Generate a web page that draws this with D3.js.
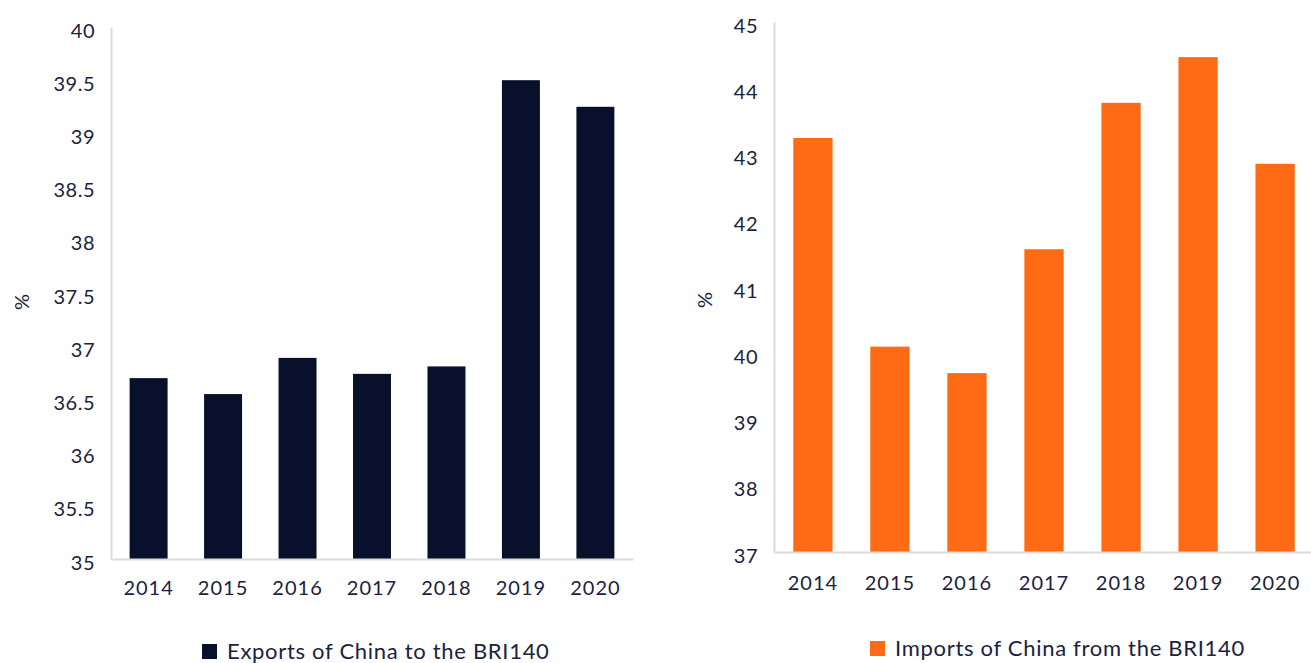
<!DOCTYPE html>
<html>
<head>
<meta charset="utf-8">
<script src="https://cdn.jsdelivr.net/npm/d3@7"></script>
<style>
  html, body { margin: 0; padding: 0; background: #fff; }
  text { font-family: Lato, "Open Sans", sans-serif; fill: #1b2240; }
</style>
</head>
<body>
<svg id="chart" width="1311" height="663"></svg>
<script>
const years = ["2014", "2015", "2016", "2017", "2018", "2019", "2020"];
const exportsShare = [36.7, 36.55, 36.89, 36.74, 36.81, 39.5, 39.25];
const importsShare = [43.25, 40.1, 39.7, 41.57, 43.78, 44.47, 42.86];
const exportTicks = [35, 35.5, 36, 36.5, 37, 37.5, 38, 38.5, 39, 39.5, 40];
const importTicks = [37, 38, 39, 40, 41, 42, 43, 44, 45];

const svg = d3.select("#chart");

function drawPanel(opts) {
    const x = d3.scaleBand().domain(years)
        .range([opts.left, opts.right])
        .paddingInner(0.49).paddingOuter(0.25);
    const y = d3.scaleLinear().domain(opts.domain).range([opts.bottom, opts.top]);

    const g = svg.append("g");

    const yAxis = g.append("g")
        .attr("transform", `translate(${opts.left},0)`)
        .call(d3.axisLeft(y).tickValues(opts.ticks).tickSize(0).tickPadding(16)
            .tickFormat(d => String(d)));
    yAxis.select(".domain").attr("stroke", "#dcdcdc").attr("stroke-width", 2);
    yAxis.selectAll("text").attr("font-size", 20).attr("letter-spacing", 0.5).attr("dy", "0.5em");

    g.selectAll(".bar")
        .data(opts.values)
        .enter().append("rect")
        .attr("class", "bar")
        .attr("x", (d, i) => x(years[i]))
        .attr("width", x.bandwidth())
        .attr("y", d => y(d))
        .attr("height", d => y(opts.domain[0]) - y(d))
        .attr("fill", opts.color);

    const xAxis = g.append("g")
        .attr("transform", `translate(0,${opts.bottom})`)
        .call(d3.axisBottom(x).tickSize(0).tickPadding(opts.xPad));
    xAxis.select(".domain").attr("stroke", "#dcdcdc").attr("stroke-width", 2);
    xAxis.selectAll("text").attr("font-size", 20).attr("letter-spacing", 1);

    g.append("text")
        .attr("transform", `translate(${opts.pctX},${opts.pctY}) rotate(-90)`)
        .attr("text-anchor", "middle")
        .attr("dy", "0.35em")
        .attr("font-size", 20)
        .text("%");

    const lg = g.append("g").attr("transform", `translate(${opts.legendX},${opts.legendY})`);
    lg.append("rect").attr("x", 0).attr("y", -7).attr("width", 15).attr("height", 15).attr("fill", opts.color);
    lg.append("text").attr("x", 25).attr("dy", "0.36em").attr("font-size", 22)
        .attr("letter-spacing", 0.7).text(opts.label);
}

drawPanel({
    left: 111, right: 633, top: 27, bottom: 559,
    domain: [35, 40], ticks: exportTicks, values: exportsShare,
    color: "#08102b", xPad: 22,
    pctX: 22, pctY: 302,
    legendX: 202, legendY: 651,
    label: "Exports of China to the BRI140"
});

drawPanel({
    left: 774, right: 1314, top: 22, bottom: 552,
    domain: [37, 45], ticks: importTicks, values: importsShare,
    color: "#ff6b14", xPad: 24,
    pctX: 705, pctY: 300,
    legendX: 870, legendY: 648,
    label: "Imports of China from the BRI140"
});
</script>
</body>
</html>
